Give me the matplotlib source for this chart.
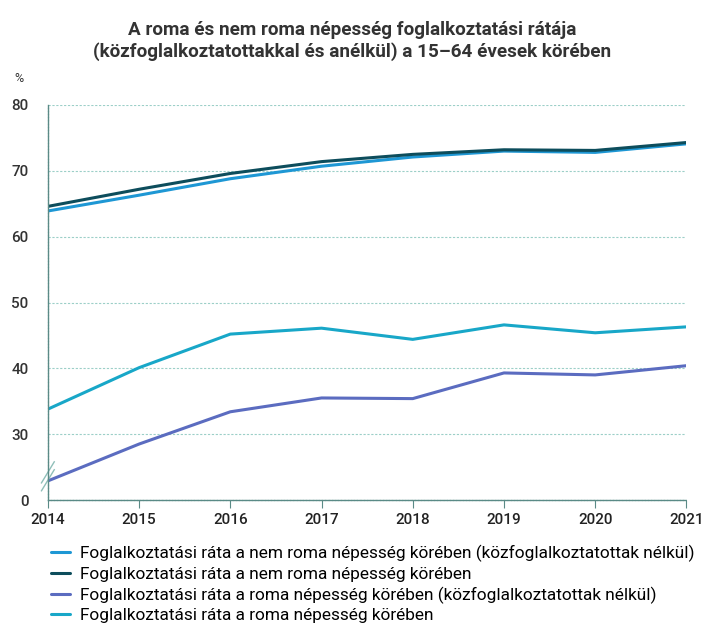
import matplotlib.pyplot as plt
from matplotlib.ticker import FixedLocator

plt.rcParams['font.family'] = ['Roboto', 'DejaVu Sans']

years = [2014, 2015, 2016, 2017, 2018, 2019, 2020, 2021]

# values; axis is broken below 30 ("0" is drawn at 20)
nem_roma_kozf_nelkul = [63.9, 66.3, 68.8, 70.7, 72.1, 73.0, 72.8, 74.1]
nem_roma = [64.6, 67.2, 69.6, 71.4, 72.5, 73.2, 73.1, 74.3]
roma_kozf_nelkul = [22.9, 28.5, 33.4, 35.5, 35.4, 39.3, 39.0, 40.4]
roma = [33.8, 40.1, 45.2, 46.1, 44.4, 46.6, 45.4, 46.3]

ytick_pos = [20, 30, 40, 50, 60, 70, 80]
ytick_labels = ['0', '30', '40', '50', '60', '70', '80']

labels = [
    "Foglalkoztatási ráta a nem roma népesség körében (közfoglalkoztatottak nélkül)",
    "Foglalkoztatási ráta a nem roma népesség körében",
    "Foglalkoztatási ráta a roma népesség körében (közfoglalkoztatottak nélkül)",
    "Foglalkoztatási ráta a roma népesség körében",
]
colors = ['#1e97d4', '#0d4d5c', '#5b6cc0', '#18a7c8']
series = [nem_roma_kozf_nelkul, nem_roma, roma_kozf_nelkul, roma]

fig = plt.figure(figsize=(7.04, 6.25), dpi=100)
ax = fig.add_axes([0.068, 0.2, 0.907, 0.632])

for vals, c, lab in zip(series, colors, labels):
    ax.plot(years, vals, color=c, lw=2.2, label=lab, solid_capstyle='round')

ax.set_xlim(2014, 2021)
ax.set_ylim(20, 80)
ax.yaxis.set_major_locator(FixedLocator(ytick_pos))
ax.set_yticklabels(ytick_labels)
ax.set_xticks(years)
ax.grid(axis='y', color='#9ccfc8', linestyle=(0, (2, 1.5)), lw=0.8)
for s in ['top', 'right']:
    ax.spines[s].set_visible(False)
for s in ['left', 'bottom']:
    ax.spines[s].set_color('#5a8a86')
    ax.spines[s].set_linestyle((0, (1.5, 0.8)))
    ax.spines[s].set_linewidth(1.0)
ax.tick_params(axis='y', length=0, pad=14, labelsize=11, labelcolor='#333333')
ax.tick_params(axis='x', length=6, color='#5a8a86', pad=3, labelsize=11, labelcolor='#222222')
for t in ax.get_xticklabels() + ax.get_yticklabels():
    t.set_fontweight('medium')

# axis break marks
bx = ax.get_yaxis_transform()
ax.plot([-0.01, 0.01], [22.6, 25.8], color='#8fbfb9', lw=1.0, transform=bx, clip_on=False)
ax.plot([-0.01, 0.01], [21.4, 24.6], color='#8fbfb9', lw=1.0, transform=bx, clip_on=False)

fig.text(0.021, 0.868, '%', fontsize=9, color='#333333')
fig.text(0.5, 0.967, 'A roma és nem roma népesség foglalkoztatási rátája\n'
         '(közfoglalkoztatottakkal és anélkül) a 15–64 évesek körében',
         ha='center', va='top', fontsize=13.6, fontweight='bold', color='#333333',
         linespacing=1.25)

fig.legend(loc='upper left', bbox_to_anchor=(0.072, 0.128), frameon=False,
           fontsize=12.4, handlelength=1.1, handletextpad=0.6, labelspacing=0.26,
           borderaxespad=0, borderpad=0)

fig.savefig('out.png', dpi=100)
